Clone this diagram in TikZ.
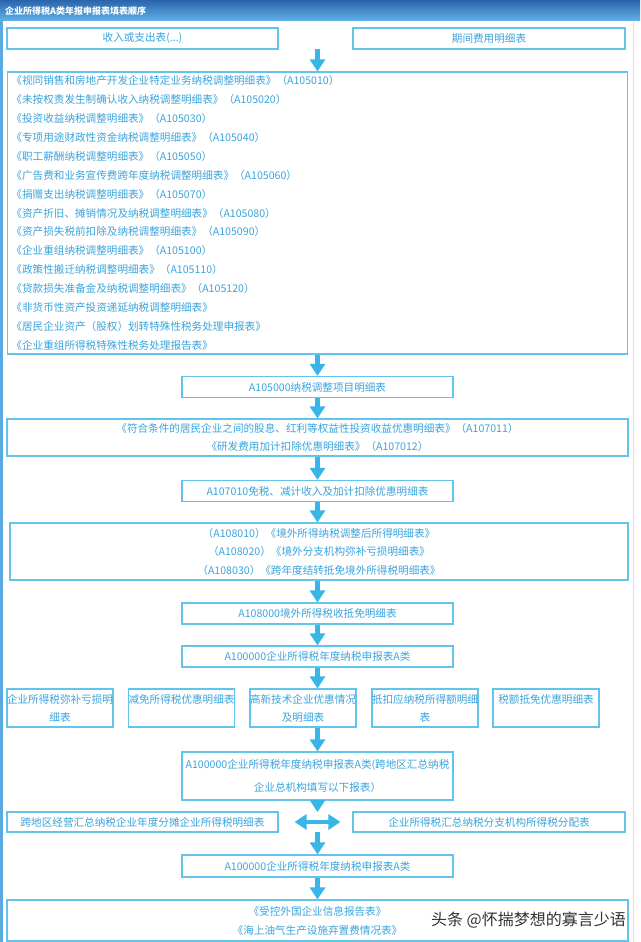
\documentclass[tikz,border=0pt]{standalone}
\usepackage{fontspec}
\setmainfont{Noto Sans CJK SC}
\usetikzlibrary{arrows.meta}
\definecolor{bx}{HTML}{62C4EA}
\definecolor{tx}{HTML}{3AA4DC}
\definecolor{ar}{HTML}{38B6E8}
\definecolor{hdA}{HTML}{2A64AC}
\definecolor{hdB}{HTML}{63B3E8}
\definecolor{strip}{HTML}{5AA9E0}
\begin{document}
\begin{tikzpicture}[x=1pt,y=-1pt,
  box/.style={draw=bx,line width=1.1pt,fill=white,inner sep=0pt,text=tx,
    font=\fontsize{10.6}{18}\selectfont,align=center},
  arr/.style={draw=ar,line width=4.5pt,-{Triangle[width=15pt,length=12pt]}},
  darr/.style={draw=ar,line width=4.5pt,{Triangle[width=15pt,length=12pt]}-{Triangle[width=15pt,length=12pt]}},
  fivebox/.style={box,minimum width=106pt,minimum height=38pt},
  midbox/.style={box,minimum width=271pt,minimum height=21pt},
]
\useasboundingbox (0,0) rectangle (640,942);
\fill[white] (0,0) rectangle (640,942);
% header and frame
\shade[top color=hdA,bottom color=hdB] (0,0) rectangle (640,21);
\node[anchor=west,text=white,inner sep=0pt,font=\bfseries\fontsize{9}{10}\selectfont] (title) at (5,11) {企业所得税A类年报申报表填表顺序};
\fill[strip] (0,21) rectangle (3,942);
\draw[black!12,line width=0.8pt] (633,21) -- (633,942);

% row 1
\node[box,minimum width=271pt,minimum height=21pt] (r1a) at (142.5,38.5) {收入或支出表(...)};
\node[box,minimum width=272pt,minimum height=21pt] (r1b) at (489,38.5) {期间费用明细表};

% list box
\node[box,align=left,text width=612pt,inner xsep=4pt,minimum height=282pt,
  font=\fontsize{10.6}{18.9}\selectfont] (list) at (317.5,213) {%
《视同销售和房地产开发企业特定业务纳税调整明细表》（A105010）\\
《未按权责发生制确认收入纳税调整明细表》（A105020）\\
《投资收益纳税调整明细表》（A105030）\\
《专项用途财政性资金纳税调整明细表》（A105040）\\
《职工薪酬纳税调整明细表》（A105050）\\
《广告费和业务宣传费跨年度纳税调整明细表》（A105060）\\
《捐赠支出纳税调整明细表》（A105070）\\
《资产折旧、摊销情况及纳税调整明细表》（A105080）\\
《资产损失税前扣除及纳税调整明细表》（A105090）\\
《企业重组纳税调整明细表》（A105100）\\
《政策性搬迁纳税调整明细表》（A105110）\\
《贷款损失准备金及纳税调整明细表》（A105120）\\
《非货币性资产投资递延纳税调整明细表》\\
《居民企业资产（股权）划转特殊性税务处理申报表》\\
《企业重组所得税特殊性税务处理报告表》};

\node[midbox] (a105000) at (317.5,387) {A105000纳税调整项目明细表};
\node[box,minimum width=621pt,minimum height=37pt] (a10701x) at (317.5,437.5) {《符合条件的居民企业之间的股息、红利等权益性投资收益优惠明细表》（A107011）\\《研发费用加计扣除优惠明细表》（A107012）};
\node[midbox] (a107010) at (317.5,491) {A107010免税、减计收入及加计扣除优惠明细表};
\node[box,minimum width=618pt,minimum height=57pt,font=\fontsize{10.6}{18.5}\selectfont] (a1080x) at (319,551.5) {（A108010）《境外所得纳税调整后所得明细表》\\（A108020）《境外分支机构弥补亏损明细表》\\（A108030）《跨年度结转抵免境外所得税明细表》};
\node[midbox] (a108000) at (317.5,613.5) {A108000境外所得税收抵免明细表};
\node[midbox] (a100000) at (317.5,656.5) {A100000企业所得税年度纳税申报表A类};

% five boxes
\node[fivebox] (f1) at (60,708) {企业所得税弥补亏损明\\细表};
\node[fivebox] (f2) at (181.5,708) {减免所得税优惠明细表\\~};
\node[fivebox] (f3) at (303,708) {高新技术企业优惠情况\\及明细表};
\node[fivebox] (f4) at (425,708) {抵扣应纳税所得额明细\\表};
\node[fivebox] (f5) at (546,708) {税额抵免优惠明细表\\~};

\node[box,minimum width=271pt,minimum height=48pt,font=\fontsize{10.6}{23}\selectfont] (a100000b) at (317.5,776) {A100000企业所得税年度纳税申报表A类(跨地区汇总纳税\\企业总机构填写以下报表）};

\node[box,minimum width=271pt,minimum height=20pt] (kuadiqu) at (142.5,822) {跨地区经营汇总纳税企业年度分摊企业所得税明细表};
\node[box,minimum width=272pt,minimum height=20pt] (fenpei) at (489,822) {企业所得税汇总纳税分支机构所得税分配表};

\node[midbox,minimum height=22pt] (a100000c) at (317.5,866) {A100000企业所得税年度纳税申报表A类};
\node[box,minimum width=621pt,minimum height=41pt,font=\fontsize{10.6}{19}\selectfont] (last) at (317.5,920.5) {《受控外国企业信息报告表》\\《海上油气生产设施弃置费情况表》};

% arrows
\coordinate (s1) at (317.5,49);
\draw[arr] (s1) -- (list.north);
\draw[arr] (list.south) -- (a105000.north);
\draw[arr] (a105000.south) -- (a10701x.north);
\draw[arr] (a10701x.south) -- (a107010.north);
\draw[arr] (a107010.south) -- (a107010.south |- a1080x.north);
\draw[arr] (a1080x.south -| a108000.north) -- (a108000.north);
\draw[arr] (a108000.south) -- (a100000.north);
\draw[arr] (a100000.south) -- (a100000.south |- f3.north);
\draw[arr] (a100000b.north |- f3.south) -- (a100000b.north);
\coordinate (m1) at (317.5,812);
\coordinate (m2) at (317.5,832);
\draw[arr] (a100000b.south) -- (m1);
\draw[darr] ([xshift=16pt]kuadiqu.east) -- ([xshift=-12pt]fenpei.west);
\draw[arr] (m2) -- (a100000c.north);
\draw[arr] (a100000c.south) -- (last.north);

% watermark
\node[anchor=east,text=black!80,inner sep=0pt,font=\fontsize{16}{16}\selectfont] (wm) at (626,920) {头条 @怀揣梦想的寡言少语};
\end{tikzpicture}
\end{document}
